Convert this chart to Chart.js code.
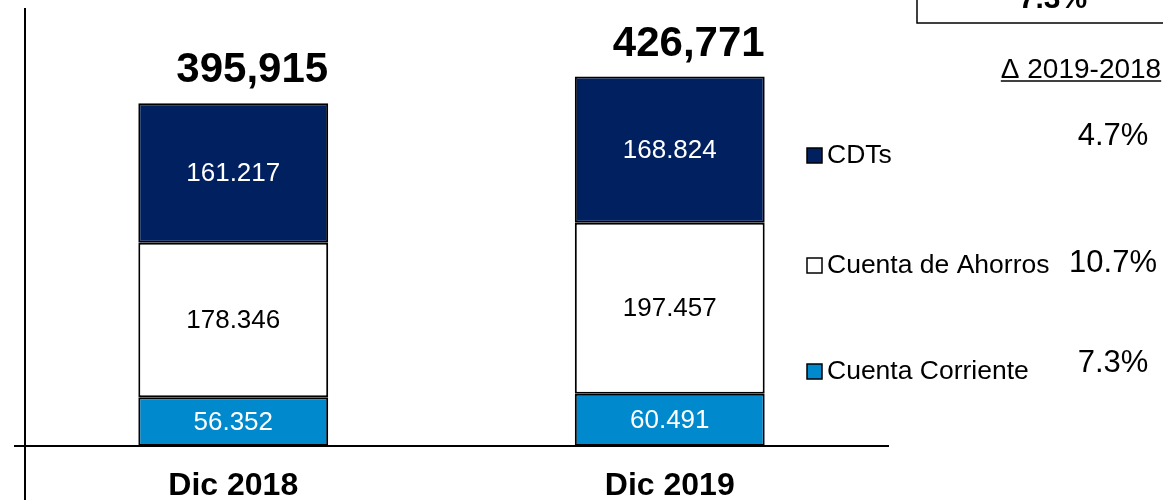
<!DOCTYPE html>
<html lang="es">
<head>
<meta charset="utf-8">
<title>Depósitos</title>
<script src="https://cdn.jsdelivr.net/npm/chart.js@4"></script>
<style>
	html, body { margin: 0; padding: 0; background: #fff; }
	#chartWrap { width: 1163px; height: 500px; position: relative; }
</style>
</head>
<body>
<div id="chartWrap"><canvas id="myChartDepositos"></canvas></div>
<script>
// data
var categories = ["Dic 2018", "Dic 2019"];
var seriesNames = ["Cuenta Corriente", "Cuenta de Ahorros", "CDTs"];
var cuentaCorriente = [56352, 60491];
var cuentaAhorros = [178346, 197457];
var cdts = [161217, 168824];
var totalLabels = ["395,915", "426,771"];
var deltaLabels = ["7.3%", "10.7%", "4.7%"]; // same order as seriesNames
var deltaTotal = "7.3%";
var deltaTitle = "Δ 2019-2018";

var font = '"Liberation Sans", Arial, Helvetica, sans-serif';
var navy = "#002060";
var blue = "#0089CC";

// 56352 -> "56.352"
function formatMiles(v) {
	return String(v).replace(/\B(?=(\d{3})+(?!\d))/g, ".");
}

// numbers inside the bars and totals above them
var barLabels = {
	id: "barLabels",
	afterDatasetsDraw: function (chart) {
		var ctx = chart.ctx;
		ctx.save();
		ctx.textAlign = "center";
		ctx.textBaseline = "middle";
		ctx.font = "26px " + font;
		chart.data.datasets.forEach(function (ds, i) {
			var meta = chart.getDatasetMeta(i);
			meta.data.forEach(function (bar, j) {
				ctx.fillStyle = ds.labelColor;
				ctx.fillText(formatMiles(ds.data[j]), bar.x, (bar.y + bar.base) / 2 + 1);
			});
		});
		// totals
		var top = chart.getDatasetMeta(chart.data.datasets.length - 1);
		ctx.font = "bold 42px " + font;
		ctx.textBaseline = "alphabetic";
		ctx.fillStyle = "#000";
		top.data.forEach(function (bar, j) {
			ctx.fillText(totalLabels[j], bar.x + 19, bar.y - 21);
		});
		ctx.restore();
	},
};

// legend on the right, variation column, and the vertical axis line
var sideNotes = {
	id: "sideNotes",
	afterDraw: function (chart) {
		var ctx = chart.ctx;
		ctx.save();

		// vertical axis line
		ctx.strokeStyle = "#000";
		ctx.lineWidth = 2;
		ctx.beginPath();
		ctx.moveTo(25, 8);
		ctx.lineTo(25, 500);
		ctx.stroke();

		// total variation box (cut by the top edge)
		ctx.lineWidth = 1.5;
		ctx.strokeRect(917, -40, 300, 63);
		ctx.fillStyle = "#000";
		ctx.font = "bold 30px " + font;
		ctx.textAlign = "center";
		ctx.textBaseline = "alphabetic";
		ctx.fillText(deltaTotal, 1053, 8);

		// delta title, underlined
		ctx.font = "28px " + font;
		ctx.fillText(deltaTitle, 1081, 78);
		var w = ctx.measureText(deltaTitle).width;
		ctx.lineWidth = 1.5;
		ctx.beginPath();
		ctx.moveTo(1081 - w / 2, 81);
		ctx.lineTo(1081 + w / 2, 81);
		ctx.stroke();

		// legend rows, top to bottom: CDTs, Ahorros, Corriente
		var rowY = [155, 265, 371];
		var deltaY = [145, 272, 372];
		var n = chart.data.datasets.length;
		for (var k = 0; k < n; k++) {
			var i = n - 1 - k;
			var ds = chart.data.datasets[i];
			var cy = rowY[k];
			ctx.fillStyle = ds.backgroundColor;
			ctx.fillRect(807, cy - 7, 15, 15);
			ctx.lineWidth = 1.5;
			ctx.strokeStyle = "#000";
			ctx.strokeRect(807, cy - 7, 15, 15);
			ctx.fillStyle = "#000";
			ctx.font = "26.5px " + font;
			ctx.textAlign = "left";
			ctx.textBaseline = "middle";
			ctx.fillText(ds.label, 827, cy + 1);

			ctx.font = "31px " + font;
			ctx.textAlign = "center";
			ctx.textBaseline = "alphabetic";
			ctx.fillText(deltaLabels[i], 1113, deltaY[k]);
		}
		ctx.restore();
	},
};

var ctx = document.getElementById("myChartDepositos").getContext("2d");
var myChart = new Chart(ctx, {
	type: "bar",
	data: {
		labels: categories,
		datasets: [
			{
				label: seriesNames[0],
				data: cuentaCorriente,
				backgroundColor: blue,
				labelColor: "#fff",
			},
			{
				label: seriesNames[1],
				data: cuentaAhorros,
				backgroundColor: "#ffffff",
				labelColor: "#000",
			},
			{
				label: seriesNames[2],
				data: cdts,
				backgroundColor: navy,
				labelColor: "#fff",
			},
		],
	},
	options: {
		responsive: true,
		maintainAspectRatio: false,
		animation: false,
		datasets: {
			bar: {
				borderColor: "#000",
				borderWidth: 2,
				borderSkipped: false,
				categoryPercentage: 0.435,
				barPercentage: 1,
			},
		},
		layout: {
			padding: { left: 15, right: 275, top: 8, bottom: 0 },
		},
		scales: {
			x: {
				stacked: true,
				grid: { display: false, drawTicks: false },
				border: { display: true, color: "#000", width: 2 },
				ticks: {
					color: "#000",
					padding: 21,
					font: { family: font, size: 32, weight: "bold" },
				},
				afterFit: function (scale) {
					scale.height = 54;
				},
			},
			y: {
				stacked: true,
				display: false,
				min: 0,
				max: 506000,
			},
		},
		plugins: {
			legend: { display: false },
			tooltip: { enabled: false },
		},
	},
	plugins: [barLabels, sideNotes],
});
</script>
</body>
</html>
